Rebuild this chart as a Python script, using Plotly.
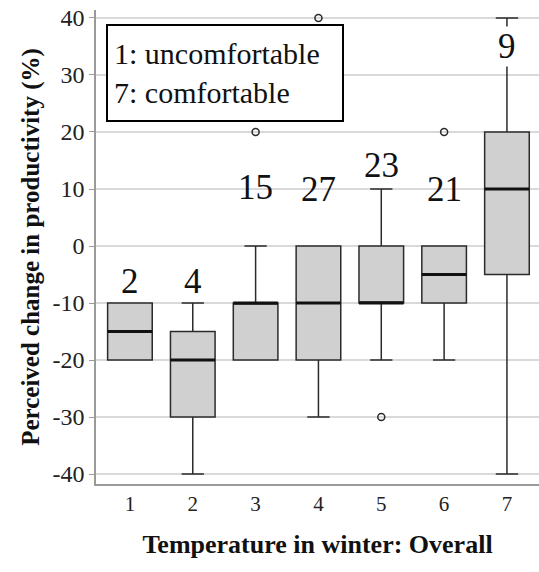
import plotly.graph_objects as go

categories = [1, 2, 3, 4, 5, 6, 7]
q1 = [-20, -30, -20, -20, -10, -10, -5]
median = [-15, -20, -10, -10, -10, -5, 10]
q3 = [-10, -15, -10, 0, 0, 0, 20]
lower_whisker = [-20, -40, -20, -30, -20, -20, -40]
upper_whisker = [-10, -10, 0, 0, 10, 0, 40]
outlier_x = [3, 4, 5, 6]
outlier_y = [20, 40, -30, 20]
counts = ["2", "4", "15", "27", "23", "21", "9"]
count_label_y = [-6.3, -6.3, 10.2, 9.9, 14.2, 9.9, 35]
y_ticks = [-40, -30, -20, -10, 0, 10, 20, 30, 40]
y_tick_text = ["-40", "-30", "-20", "-10", "0", "10", "20", "30", "40"]

FONT = "Liberation Serif"
BOX_W = 0.71
LINE = "#2b2b2b"

fig = go.Figure()
fig.add_trace(go.Box(
    x=categories, q1=q1, median=median, q3=q3,
    lowerfence=lower_whisker, upperfence=upper_whisker,
    width=BOX_W, whiskerwidth=0.5,
    fillcolor="#d0d0d0", line=dict(color=LINE, width=1.5),
    boxpoints=False, showlegend=False, hoverinfo="skip",
))

# thicker median lines
mx, my = [], []
for c, m in zip(categories, median):
    mx += [c - BOX_W / 2, c + BOX_W / 2, None]
    my += [m, m, None]
fig.add_trace(go.Scatter(x=mx, y=my, mode="lines",
                         line=dict(color="#111111", width=3),
                         showlegend=False, hoverinfo="skip"))

fig.add_trace(go.Scatter(x=outlier_x, y=outlier_y, mode="markers",
                         marker=dict(symbol="circle-open", size=7,
                                     color=LINE, line=dict(width=1.5)),
                         showlegend=False, hoverinfo="skip"))

for c, t, yy, top in zip(categories, counts, count_label_y, upper_whisker):
    fig.add_annotation(x=c, y=yy, text=t, showarrow=False,
                       font=dict(family=FONT, size=35, color="#111111"),
                       bgcolor="white" if yy < top else "rgba(0,0,0,0)",
                       borderpad=0, yanchor="middle")

fig.add_annotation(xref="paper", yref="paper", x=0.023, y=0.97,
                   xanchor="left", yanchor="top", align="left",
                   text="1: uncomfortable<br>7: comfortable",
                   showarrow=False, bordercolor="black", borderwidth=2,
                   borderpad=6, bgcolor="white", width=222, height=82,
                   font=dict(family=FONT, size=30, color="#111111"))

fig.update_layout(
    width=539, height=572,
    margin=dict(l=96, r=0, t=10, b=88),
    plot_bgcolor="white", paper_bgcolor="white",
    font=dict(family=FONT, color="#222222"),
    xaxis=dict(range=[0.46, 7.51], tickmode="array", tickvals=categories,
               ticktext=[str(c) for c in categories],
               showgrid=False, zeroline=False,
               showline=True, linecolor="#9a9a9a", linewidth=1.5,
               ticks="", tickfont=dict(size=21, family=FONT, color="#222222"),
               title=dict(text="<b>Temperature in winter: Overall</b>",
                          font=dict(size=26, family=FONT, color="#111111"),
                          standoff=20)),
    yaxis=dict(range=[-41.75, 41.4], tickmode="array", tickvals=y_ticks,
               ticktext=y_tick_text,
               showgrid=True, gridcolor="#d9d9d9", gridwidth=1.5,
               zeroline=False, showline=True, linecolor="#9a9a9a",
               linewidth=1.5, ticks="outside", ticklen=5, tickcolor="#9a9a9a",
               tickfont=dict(size=24, family=FONT, color="#222222"),
               title=dict(text="<b>Perceived change in productivity (%)</b>",
                          font=dict(size=25, family=FONT, color="#111111"),
                          standoff=6)),
)

fig.write_html("out.html")
